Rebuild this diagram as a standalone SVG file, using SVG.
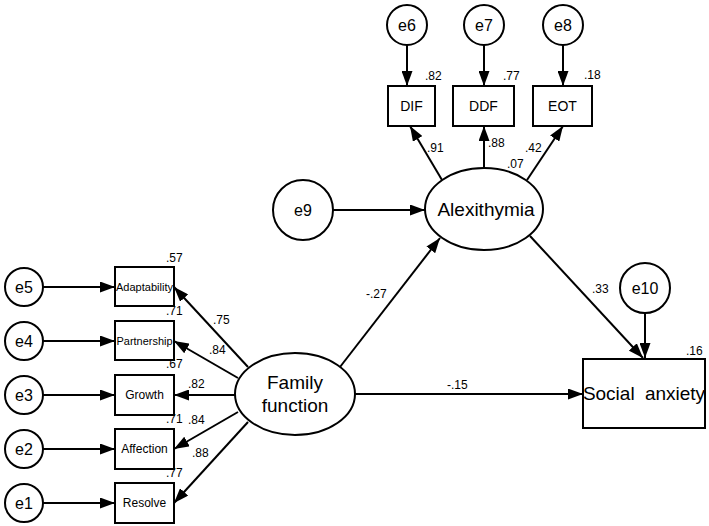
<svg xmlns="http://www.w3.org/2000/svg" width="709" height="526" viewBox="0 0 709 526">
<defs>
<marker id="ah" viewBox="0 0 15 11" refX="15" refY="5.5" markerWidth="15" markerHeight="11" markerUnits="userSpaceOnUse" orient="auto">
<path d="M0,0 L15,5.5 L0,11 Z" fill="#000"/>
</marker>
<style>
.n{fill:#fff;stroke:#000;stroke-width:2}
.t{font-family:"Liberation Sans",Arial,sans-serif;fill:#000;text-anchor:middle}
.e{font-size:16px}
.b{font-size:12px}
.v{font-family:"Liberation Sans",Arial,sans-serif;font-size:12px;fill:#000}
.c line{stroke:#000;stroke-width:2;marker-end:url(#ah)}
</style>
</defs>
<rect width="709" height="526" fill="#fff"/>
<g class="c" id="connectors">
<line x1="43" y1="287" x2="115" y2="287"/>
<line x1="43" y1="341" x2="115" y2="341"/>
<line x1="43" y1="395" x2="115" y2="395"/>
<line x1="43" y1="449" x2="115" y2="449"/>
<line x1="43" y1="503" x2="115" y2="503"/>
<line x1="248" y1="367" x2="174" y2="287"/>
<line x1="238" y1="378" x2="174" y2="341"/>
<line x1="235" y1="395" x2="174" y2="395"/>
<line x1="238" y1="412" x2="174" y2="449"/>
<line x1="248" y1="422" x2="174" y2="503"/>
<line x1="407" y1="45" x2="407" y2="86"/>
<line x1="484" y1="45" x2="484" y2="86"/>
<line x1="563" y1="45" x2="563" y2="86"/>
<line x1="442" y1="180" x2="410" y2="126"/>
<line x1="484" y1="168" x2="484" y2="126"/>
<line x1="527" y1="180" x2="563" y2="126"/>
<line x1="333" y1="210" x2="425" y2="210"/>
<line x1="340" y1="367" x2="440" y2="238"/>
<line x1="355" y1="394" x2="583" y2="394"/>
<line x1="530" y1="236" x2="643" y2="358"/>
<line x1="645" y1="313" x2="645" y2="358"/>
</g>
<g id="e5"><circle class="n" cx="24" cy="287" r="19"/><text class="t e" x="24" y="293">e5</text></g>
<g id="e4"><circle class="n" cx="24" cy="341" r="19"/><text class="t e" x="24" y="347">e4</text></g>
<g id="e3"><circle class="n" cx="24" cy="395" r="19"/><text class="t e" x="24" y="401">e3</text></g>
<g id="e2"><circle class="n" cx="24" cy="449" r="19"/><text class="t e" x="24" y="455">e2</text></g>
<g id="e1"><circle class="n" cx="24" cy="503" r="19"/><text class="t e" x="24" y="509">e1</text></g>
<g id="adaptability"><rect class="n" x="115" y="267" width="59" height="39"/><text class="t" style="font-size:11px" x="144.5" y="291" textLength="57" lengthAdjust="spacingAndGlyphs">Adaptability</text><text class="v" x="166" y="262">.57</text></g>
<g id="partnership"><rect class="n" x="115" y="321" width="59" height="39"/><text class="t" style="font-size:11px" x="144.5" y="345" textLength="56" lengthAdjust="spacingAndGlyphs">Partnership</text><text class="v" x="166" y="315">.71</text></g>
<g id="growth"><rect class="n" x="115" y="375" width="59" height="40"/><text class="t b" x="144.5" y="399">Growth</text><text class="v" x="166" y="368">.67</text></g>
<g id="affection"><rect class="n" x="115" y="429" width="59" height="40"/><text class="t b" x="144.5" y="453">Affection</text><text class="v" x="166" y="423">.71</text></g>
<g id="resolve"><rect class="n" x="115" y="483" width="59" height="40"/><text class="t b" x="144.5" y="507">Resolve</text><text class="v" x="166" y="477">.77</text></g>
<g id="family-function"><ellipse class="n" cx="295" cy="394" rx="60" ry="41"/><text class="t" style="font-size:19px" x="295" y="389">Family</text><text class="t" style="font-size:19px" x="295" y="412">function</text></g>
<g id="loadings-ff"><text class="v" x="213" y="324">.75</text><text class="v" x="209" y="354">.84</text><text class="v" x="188" y="388">.82</text><text class="v" x="188" y="424">.84</text><text class="v" x="192" y="457">.88</text></g>
<g id="e6"><circle class="n" cx="407" cy="25" r="20"/><text class="t e" x="407" y="31">e6</text></g>
<g id="e7"><circle class="n" cx="484" cy="25" r="20"/><text class="t e" x="484" y="31">e7</text></g>
<g id="e8"><circle class="n" cx="563" cy="25" r="20"/><text class="t e" x="563" y="31">e8</text></g>
<g id="dif"><rect class="n" x="388" y="86" width="47" height="40"/><text class="t" style="font-size:14px" x="411.5" y="111">DIF</text><text class="v" x="425" y="80">.82</text></g>
<g id="ddf"><rect class="n" x="453" y="86" width="61" height="40"/><text class="t" style="font-size:14px" x="483.5" y="111">DDF</text><text class="v" x="503" y="80">.77</text></g>
<g id="eot"><rect class="n" x="533" y="86" width="59" height="40"/><text class="t" style="font-size:14px" x="562.5" y="111">EOT</text><text class="v" x="584" y="79">.18</text></g>
<g id="loadings-alex"><text class="v" x="427" y="152">.91</text><text class="v" x="488" y="147">.88</text><text class="v" x="525" y="152">.42</text><text class="v" x="507" y="168">.07</text></g>
<g id="alexithymia"><ellipse class="n" cx="484" cy="209" rx="59" ry="41"/><text class="t" style="font-size:19px" x="486" y="216">Alexithymia</text></g>
<g id="e9"><circle class="n" cx="303" cy="210" r="30"/><text class="t e" x="303" y="216">e9</text></g>
<g id="e10"><circle class="n" cx="645" cy="288" r="25"/><text class="t e" x="645" y="294">e10</text></g>
<g id="social-anxiety"><rect class="n" x="583" y="359" width="122" height="69"/><text class="t" style="font-size:19px;word-spacing:5px" x="644" y="400">Social anxiety</text><text class="v" x="686" y="355">.16</text></g>
<g id="path-labels"><text class="v" x="366" y="298">-.27</text><text class="v" x="592" y="293">.33</text><text class="v" x="447" y="389">-.15</text></g>
</svg>
